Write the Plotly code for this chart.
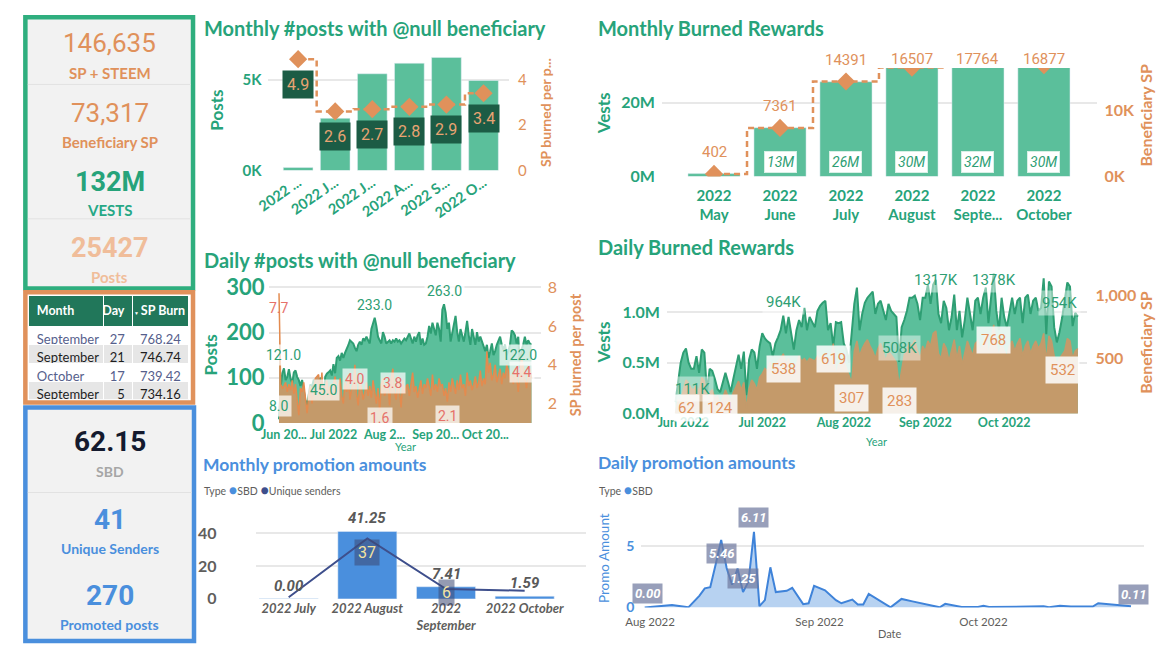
import plotly.graph_objects as go
import pandas as pd

W, H = 1160, 667
def X(px): return px / W
def Y(py): return 1 - py / H

# ---------------- DATA ----------------
kpi_sp_steem = "146,635"
kpi_benef_sp = "73,317"
kpi_vests = "132M"
kpi_posts = "25427"
kpi_sbd = "62.15"
kpi_senders = "41"
kpi_promoted = "270"

month_ticks_posts = ["2022 ...", "2022 J...", "2022 J...", "2022 A...", "2022 S...", "2022 O..."]
monthly_posts = [167, 2870, 5320, 5900, 6220, 4950]
monthly_sp_per_post = [4.9, 2.6, 2.7, 2.8, 2.9, 3.4]

month_ticks_burn = ["2022<br>May", "2022<br>June", "2022<br>July", "2022<br>August", "2022<br>Septe...", "2022<br>October"]
monthly_vests = [0.8e6, 13.2e6, 25.6e6, 29.8e6, 32.1e6, 30.3e6]
monthly_benef_sp = [402, 7361, 14391, 16507, 17764, 16877]

daily_start = "2022-05-29"
daily_posts = [8, 80, 110, 121, 95, 102, 119, 98, 88, 112,
               116, 102, 95, 82, 95, 70, 50, 38, 60, 85,
               80, 95, 88, 75, 90, 100, 95, 45, 102, 109,
               112, 116, 105, 130, 110, 144, 148, 138, 155, 144,
               155, 162, 172, 183, 179, 176, 166, 159, 173, 180,
               173, 187, 183, 191, 183, 176, 208, 222, 233, 215,
               191, 183, 176, 201, 191, 176, 180, 183, 176, 183,
               180, 187, 180, 183, 176, 183, 187, 183, 191, 198,
               187, 176, 191, 180, 194, 201, 173, 187, 173, 176,
               191, 215, 198, 222, 208, 194, 222, 208, 180, 251,
               263, 244, 208, 222, 180, 201, 215, 237, 201, 180,
               208, 194, 180, 201, 226, 194, 173, 208, 187, 173,
               201, 180, 191, 180, 166, 159, 173, 144, 159, 176,
               150, 159, 173, 183, 191, 173, 162, 173, 150, 159,
               173, 205, 201, 194, 176, 191, 122, 162, 173, 191,
               173, 183, 176, 173]
daily_sp_per_post = [7.7, 3.0, 2.8, 2.9, 3.1, 2.6, 3.0, 2.7, 3.2, 2.5,
                     3.0, 2.3, 1.4, 2.8, 2.6, 3.1, 2.2, 1.5, 2.4, 2.9,
                     2.0, 2.7, 3.3, 3.4, 3.5, 2.6, 3.6, 2.2, 2.9, 3.2,
                     2.4, 2.9, 2.2, 3.0, 3.4, 2.5, 2.9, 3.3, 2.4, 2.0,
                     3.1, 2.6, 3.5, 2.2, 2.8, 3.0, 4.0, 2.5, 1.9, 3.2,
                     2.8, 2.2, 2.6, 3.1, 2.4, 2.9, 2.3, 3.2, 2.6, 2.0,
                     2.8, 1.6, 3.0, 3.3, 2.4, 2.8, 3.1, 1.9, 3.3, 3.8,
                     2.6, 2.2, 3.4, 2.7, 1.8, 3.2, 2.5, 2.9, 3.0, 2.4,
                     3.1, 3.6, 2.6, 2.9, 2.3, 2.7, 3.2, 2.5, 3.0, 2.8,
                     3.3, 2.9, 2.4, 3.5, 2.7, 3.0, 2.6, 3.3, 2.9, 3.0,
                     2.4, 2.8, 2.1, 3.1, 2.6, 3.3, 2.9, 2.5, 3.2, 2.7,
                     3.5, 2.8, 3.0, 2.4, 3.6, 2.9, 3.2, 2.7, 3.0, 3.4,
                     2.8, 3.1, 3.7, 2.9, 3.3, 3.0, 4.7, 3.6, 4.1, 3.2,
                     3.5, 4.0, 3.1, 3.4, 3.8, 3.0, 3.6, 3.3, 4.0, 3.7,
                     3.2, 3.5, 3.0, 3.8, 3.4, 2.6, 3.6, 4.4, 3.9, 3.2,
                     2.8, 3.5, 3.8, 3.3]
daily_vests_k = [111, 300, 500, 600, 640, 500, 440, 440, 565, 400,
                 630, 600, 210, 440, 420, 340, 240, 210, 310, 400,
                 310, 210, 340, 470, 580, 440, 610, 180, 530, 630,
                 600, 440, 660, 790, 740, 710, 690, 560, 690, 750,
                 820, 964, 790, 950, 790, 630, 820, 920, 850, 1040,
                 820, 950, 900, 850, 1010, 1060, 1090, 1110, 820, 890,
                 660, 900, 890, 900, 690, 630, 500, 820, 1080, 1240,
                 820, 980, 1090, 1140, 1170, 1200, 980, 1080, 1110, 1010,
                 920, 1080, 1010, 980, 950, 508, 850, 920, 1010, 1140,
                 1140, 1160, 1080, 920, 1140, 1140, 1270, 1080, 1270, 1317,
                 980, 890, 1110, 1040, 820, 950, 1170, 820, 1010, 750,
                 920, 1140, 980, 820, 1110, 1140, 980, 1140, 1240, 890,
                 1140, 1378, 1010, 820, 1140, 950, 850, 980, 1140, 980,
                 1110, 1140, 890, 1140, 1170, 980, 1110, 1140, 1010, 1040,
                 1330, 780, 1300, 1250, 850, 700, 800, 940, 1100, 1290,
                 1250, 860, 990, 954]
daily_benef_sp = [62, 170, 170, 250, 330, 300, 260, 250, 290, 230,
                  350, 320, 150, 230, 250, 180, 200, 124, 180, 250,
                  200, 160, 230, 280, 320, 250, 310, 100, 260, 330,
                  300, 250, 350, 380, 420, 400, 470, 350, 430, 480,
                  500, 538, 460, 500, 410, 330, 450, 520, 480, 500,
                  470, 500, 490, 480, 520, 500, 520, 500, 420, 480,
                  619, 360, 450, 470, 480, 420, 360, 307, 560, 640,
                  520, 580, 620, 650, 600, 560, 500, 580, 620, 540,
                  480, 560, 530, 500, 470, 283, 420, 530, 580, 620,
                  600, 650, 560, 500, 600, 560, 640, 600, 700, 720,
                  540, 500, 620, 580, 480, 560, 650, 500, 600, 450,
                  560, 640, 580, 520, 620, 640, 560, 620, 700, 520,
                  640, 768, 600, 520, 620, 560, 520, 600, 640, 560,
                  620, 660, 520, 600, 640, 540, 600, 640, 580, 620,
                  700, 480, 680, 640, 520, 460, 500, 532, 560, 660,
                  640, 500, 560, 580]

posts_labels = [8, 121, 45, 233, 263, 122]
sp_labels = [7.7, 4.0, 3.8, 1.6, 2.1, 4.4]
vests_labels_k = [111, 964, 508, 1317, 1378, 954]
benef_labels = [62, 124, 538, 619, 307, 283, 768, 532]

table_month = ["September", "September", "October", "September"]
table_day = [27, 21, 17, 5]
table_sp_burn = [768.24, 746.74, 739.42, 734.16]

promo_months = ["2022 July", "2022 August", "2022<br>September", "2022 October"]
promo_sbd = [0.004, 41.25, 7.41, 1.59]
promo_senders = [1, 37, 6, 5]

promo_dates = ["2022-07-31", "2022-08-03", "2022-08-05", "2022-08-08", "2022-08-10", "2022-08-11",
               "2022-08-12", "2022-08-13", "2022-08-14", "2022-08-15", "2022-08-16", "2022-08-17",
               "2022-08-18", "2022-08-19", "2022-08-20", "2022-08-21", "2022-08-22", "2022-08-23",
               "2022-08-24", "2022-08-26", "2022-08-27", "2022-08-29", "2022-08-30", "2022-08-31",
               "2022-09-02", "2022-09-04", "2022-09-05", "2022-09-07", "2022-09-08", "2022-09-09",
               "2022-09-10", "2022-09-14", "2022-09-16", "2022-09-18", "2022-09-23", "2022-09-24",
               "2022-09-27", "2022-09-30", "2022-10-01", "2022-10-02", "2022-10-06", "2022-10-10",
               "2022-10-12", "2022-10-13", "2022-10-15", "2022-10-17", "2022-10-19", "2022-10-20",
               "2022-10-21", "2022-10-22", "2022-10-26", "2022-10-28"]
promo_amounts = [0.004, 0.15, 0.2, 0.02, 0.95, 1.55,
                 1.65, 3.5, 5.46, 3.2, 1.85, 3.15,
                 1.25, 2.1, 6.11, 0.12, 0.6, 3.25,
                 1.25, 1.35, 1.6, 0.28, 0.35, 1.75,
                 1.4, 0.6, 0.35, 0.65, 0.25, 0.25,
                 1.1, 0.02, 0.7, 0.5, 0.02, 0.3,
                 0.05, 0.05, 0.15, 0.05, 0.08, 0.06,
                 0.1, 0.02, 0.15, 0.08, 0.1, 0.05,
                 0.08, 0.35, 0.2, 0.11]
promo_labels = [0.004, 5.46, 1.25, 6.11, 0.11]

# ---------------- STYLE ----------------
GREEN = "#27A37A"
GREEN_BAR = "#5BBF9B"
GREEN_LINE = "#2E9E73"
GREEN_BOX = "#1C5C45"
ORANGE = "#E0915B"
ORANGE_LIGHT = "#F0BD9A"
TAN = "#C49A6A"
ORANGE_LINE = "#E38B4F"
SALMON = "#E6716A"
BLUE = "#4A8FDD"
NAVY = "#3E4F8C"
GRAY = "#605E5C"
GRID = "#E8E8E8"
TF = "Lato"
NF = "Roboto"

dates = pd.date_range(daily_start, periods=len(daily_posts))
daily_vests = [v * 1000 for v in daily_vests_k]

fig = go.Figure()

# Monthly posts
fig.add_trace(go.Bar(x=list(range(6)), y=monthly_posts, marker_color=GREEN_BAR, width=0.8,
                     xaxis="x", yaxis="y"))
fig.add_trace(go.Scatter(x=list(range(6)), y=monthly_sp_per_post, mode="lines+markers",
                         line=dict(shape="hvh", dash="6px,4px", color=ORANGE, width=2.5),
                         marker=dict(symbol="diamond", size=14, color=ORANGE),
                         xaxis="x", yaxis="y2"))
# Monthly burned
fig.add_trace(go.Bar(x=list(range(6)), y=monthly_vests, marker_color=GREEN_BAR, width=0.79,
                     xaxis="x2", yaxis="y3"))
fig.add_trace(go.Scatter(x=list(range(6)), y=monthly_benef_sp, mode="lines+markers",
                         line=dict(shape="hvh", dash="6px,4px", color=ORANGE, width=2.5),
                         marker=dict(symbol="diamond", size=14, color=ORANGE),
                         xaxis="x2", yaxis="y4"))
# Daily posts
fig.add_trace(go.Scatter(x=dates, y=daily_posts, mode="lines", fill="tozeroy",
                         fillcolor=GREEN_BAR, line=dict(color=GREEN_LINE, width=2),
                         xaxis="x3", yaxis="y5"))
fig.add_trace(go.Scatter(x=dates, y=daily_sp_per_post, mode="lines", fill="tozeroy",
                         fillcolor=TAN, line=dict(color=ORANGE_LINE, width=1.5),
                         xaxis="x3", yaxis="y6"))
# Daily burned
fig.add_trace(go.Scatter(x=dates, y=daily_vests, mode="lines", fill="tozeroy",
                         fillcolor=GREEN_BAR, line=dict(color=GREEN_LINE, width=2),
                         xaxis="x4", yaxis="y7"))
fig.add_trace(go.Scatter(x=dates, y=daily_benef_sp, mode="lines", fill="tozeroy",
                         fillcolor=TAN, line=dict(color=TAN, width=1.5),
                         xaxis="x4", yaxis="y8"))
# Monthly promo
fig.add_trace(go.Bar(x=list(range(4)), y=promo_sbd, marker_color=BLUE, width=0.75,
                     xaxis="x5", yaxis="y9"))
fig.add_trace(go.Scatter(x=list(range(4)), y=promo_senders, mode="lines",
                         line=dict(color=NAVY, width=2), xaxis="x5", yaxis="y9"))
# Daily promo
fig.add_trace(go.Scatter(x=pd.to_datetime(promo_dates), y=promo_amounts, mode="lines", fill="tozeroy",
                         fillcolor="rgba(74,143,221,0.40)", line=dict(color="#3F83D9", width=2),
                         xaxis="x6", yaxis="y10"))
# Table
row_fill = ["#FFFFFF", "#E6E6E6", "#FFFFFF", "#E6E6E6"]
row_font = ["#56608C", "#1E1E1E", "#56608C", "#1E1E1E"]
fig.add_trace(go.Table(
    domain=dict(x=[X(13), X(176)], y=[Y(404), Y(296)]),
    columnwidth=[76, 30, 57],
    header=dict(values=["<b>Month</b>", "<b>Day</b>", "<b>SP\u00a0Burn</b>"],
                fill_color="#21775A", line_color="white", line_width=1,
                font=dict(color="white", size=12.5, family="Lato"),
                align=["left", "right", "left"], height=21),
    cells=dict(values=[table_month, table_day, [f"{v:.2f}" for v in table_sp_burn]],
               fill_color=[row_fill] * 3, line_color="white", line_width=1,
               font=dict(color=[row_font] * 3, size=13, family="Lato"),
               align=["left", "right", "right"], height=18.5)))

ax = dict(showgrid=False, zeroline=False, showline=False, ticks="", fixedrange=True)
ay = dict(zeroline=False, showline=False, ticks="", gridcolor=GRID, gridwidth=1.5, fixedrange=True)

def tf(size, color, bold=True, italic=False, family=TF):
    d = dict(size=size, color=color, family=family)
    if bold:
        d["weight"] = "bold"
    if italic:
        d["style"] = "italic"
    return d

fig.update_layout(
    width=W, height=H, margin=dict(l=0, r=0, t=0, b=0),
    paper_bgcolor="white", plot_bgcolor="rgba(0,0,0,0)", showlegend=False,
    hovermode=False, font=dict(family=TF),
    # monthly posts
    xaxis=dict(ax, domain=[X(256), X(500)], anchor="y", range=[-0.8, 5.69],
               tickvals=list(range(6)), ticktext=month_ticks_posts, tickangle=-35,
               tickfont=tf(14.5, GREEN)),
    yaxis=dict(ay, domain=[Y(167), Y(42)], anchor="x", range=[0, 6649],
               tickvals=[0, 5000], ticktext=["0K", "5K"], tickfont=tf(15, GREEN), ticklabelstandoff=6),
    yaxis2=dict(ay, overlaying="y", side="right", anchor="x", range=[0, 5.32], showgrid=False,
                tickvals=[0, 2, 4], tickfont=tf(15, ORANGE, bold=False), ticklabelstandoff=8),
    # monthly burned
    xaxis2=dict(ax, domain=[X(655), X(1096.5)], anchor="y3", range=[-0.789, 5.81],
                tickvals=list(range(6)), ticktext=month_ticks_burn, tickfont=tf(15, GREEN),
                ticklabelstandoff=8),
    yaxis3=dict(ay, domain=[Y(173.3), Y(61)], anchor="x2", range=[0, 29.32e6],
                tickvals=[0, 20e6], ticktext=["0M", "20M"], tickfont=tf(16, GREEN), ticklabelstandoff=6),
    yaxis4=dict(ay, overlaying="y3", side="right", anchor="x2", range=[0, 16440], showgrid=False,
                tickvals=[0, 10000], ticktext=["0K", "10K"], tickfont=tf(16, ORANGE), ticklabelstandoff=6),
    # daily posts
    xaxis3=dict(ax, domain=[X(257), X(532)], anchor="y5", type="date",
                range=["2022-05-23 05:00", "2022-11-03 14:00"],
                tickvals=["2022-06-01", "2022-07-01", "2022-08-01", "2022-09-01", "2022-10-01"],
                ticktext=["Jun 20...", "Jul 2022", "Aug 2...", "Sep 20...", "Oct 20..."],
                tickfont=tf(12.5, GREEN), ticklabelstandoff=3),
    yaxis5=dict(ay, domain=[Y(428), Y(283)], anchor="x3", range=[0, 310.7],
                tickvals=[0, 100, 200, 300], tickfont=tf(22, GREEN), ticklabelstandoff=4),
    yaxis6=dict(ay, overlaying="y5", side="right", anchor="x3", range=[1, 8.25], showgrid=False,
                tickvals=[2, 4, 6, 8], tickfont=tf(16, ORANGE, bold=False), ticklabelstandoff=6),
    # daily burned
    xaxis4=dict(ax, domain=[X(660), X(1085.5)], anchor="y7", type="date",
                range=["2022-05-25 18:00", "2022-11-01 07:00"],
                tickvals=["2022-06-01", "2022-07-01", "2022-08-01", "2022-09-01", "2022-10-01"],
                ticktext=["Jun 2022", "Jul 2022", "Aug 2022", "Sep 2022", "Oct 2022"],
                tickfont=tf(12.5, GREEN)),
    yaxis7=dict(ay, domain=[Y(418.3), Y(268)], anchor="x4", range=[0, 1.431e6],
                tickvals=[0, 0.5e6, 1e6], ticktext=["0.0M", "0.5M", "1.0M"], tickfont=tf(16, GREEN),
                ticklabelstandoff=6),
    yaxis8=dict(ay, overlaying="y7", side="right", anchor="x4", range=[62, 1220], showgrid=False,
                tickvals=[500, 1000], ticktext=["500", "1,000"], tickfont=tf(16, ORANGE), ticklabelstandoff=8),
    # monthly promo
    xaxis5=dict(ax, domain=[X(243), X(578)], anchor="y9", range=[-0.42, 3.78],
                tickvals=list(range(4)), ticktext=promo_months, tickfont=tf(13, GRAY, italic=True)),
    yaxis9=dict(ay, domain=[Y(610), Y(515)], anchor="x5", range=[0, 56.2],
                tickvals=[0, 20, 40], tickfont=tf(16, GRAY), ticklabelstandoff=38),
    # daily promo
    xaxis6=dict(ax, domain=[X(634), X(1144)], anchor="y10", type="date",
                range=["2022-07-30 09:00", "2022-10-30 10:00"],
                tickvals=["2022-08-01", "2022-09-01", "2022-10-01"],
                ticktext=["Aug 2022", "Sep 2022", "Oct 2022"], tickfont=tf(11.5, GRAY, bold=False),
                ticklabelstandoff=6),
    yaxis10=dict(ay, domain=[Y(619), Y(520)], anchor="x6", range=[0, 7.73],
                 tickvals=[0, 5], tickfont=tf(14, BLUE), ticklabelstandoff=6),
)

shapes = [
    dict(type="rect", xref="paper", yref="paper", x0=X(9.5), x1=X(179.5), y0=Y(289), y1=Y(8.5),
         line=dict(color="#2FAE7E", width=4.5), fillcolor="#F2F2F2", layer="below"),
    dict(type="line", xref="paper", yref="paper", x0=X(12), x1=X(177), y0=Y(78), y1=Y(78),
         line=dict(color="#E2E2E2", width=1), layer="below"),
    dict(type="line", xref="paper", yref="paper", x0=X(12), x1=X(177), y0=Y(217), y1=Y(217),
         line=dict(color="#E2E2E2", width=1), layer="below"),
    dict(type="rect", xref="paper", yref="paper", x0=X(9.5), x1=X(179.5), y0=Y(407), y1=Y(293),
         line=dict(color=ORANGE, width=4.5), fillcolor="white", layer="below"),
    dict(type="rect", xref="paper", yref="paper", x0=X(9.5), x1=X(180.5), y0=Y(653.5), y1=Y(412),
         line=dict(color=BLUE, width=4.5), fillcolor="#F2F2F2", layer="below"),
    dict(type="line", xref="paper", yref="paper", x0=X(12), x1=X(178), y0=Y(500), y1=Y(500),
         line=dict(color="#E2E2E2", width=1), layer="below"),
]
fig.update_layout(shapes=shapes)

anns = []
def A(text, xp, yp, size, color, family=TF, xanchor="center", angle=0, **kw):
    anns.append(dict(text=text, x=X(xp), y=Y(yp), xref="paper", yref="paper", showarrow=False,
                     xanchor=xanchor, yanchor="middle", textangle=angle,
                     font=dict(size=size, color=color, family=family), **kw))

# KPI panels
A(kpi_sp_steem, 95, 35, 26, ORANGE, family=NF)
A("<b>SP + STEEM</b>", 95, 66, 15, ORANGE)
A(kpi_benef_sp, 95, 108, 26, ORANGE, family=NF)
A("<b>Beneficiary SP</b>", 95, 138, 15, ORANGE)
A(f"<b>{kpi_vests}</b>", 95, 179, 27, "#26A37A", family=NF)
A("<b>VESTS</b>", 95, 208, 15, "#26A886")
A(f"<b>{kpi_posts}</b>", 95, 247, 27, ORANGE_LIGHT, family=NF)
A("<b>Posts</b>", 95, 277, 15, ORANGE_LIGHT)
A(f"<b>{kpi_sbd}</b>", 95, 447, 28, "#141A2E", family=NF)
A("<b>SBD</b>", 95, 478, 14, "#A6A6A6")
A(f"<b>{kpi_senders}</b>", 95, 528, 28, BLUE, family=NF)
A("<b>Unique Senders</b>", 95, 558, 14, BLUE)
A(f"<b>{kpi_promoted}</b>", 95, 606, 28, BLUE, family=NF)
A("<b>Promoted posts</b>", 95, 636, 14, BLUE)
A("▼", 122.5, 314, 5, "white")

# Titles
A("<b>Monthly #posts with @null beneficiary</b>", 189, 20, 20, GREEN, xanchor="left")
A("<b>Monthly Burned Rewards</b>", 588, 20, 20, GREEN, xanchor="left")
A("<b>Daily #posts with @null beneficiary</b>", 189, 260, 20, GREEN, xanchor="left")
A("<b>Daily Burned Rewards</b>", 588, 246, 20, GREEN, xanchor="left")
A("<b>Monthly promotion amounts</b>", 188, 471, 17.5, BLUE, xanchor="left")
A("<b>Daily promotion amounts</b>", 588, 469, 17.5, BLUE, xanchor="left")

# Axis titles
A("<b>Posts</b>", 203, 105, 17, GREEN, angle=-90)
A("<b>SP burned per p...</b>", 537, 107, 14, ORANGE, angle=-90)
A("<b>Vests</b>", 596, 108, 17, GREEN, angle=-90)
A("<b>Beneficiary SP</b>", 1145, 110, 16, ORANGE, angle=-90)
A("<b>Posts</b>", 197, 358, 17, GREEN, angle=-90)
A("<b>SP burned per post</b>", 567, 358, 14.5, ORANGE, angle=-90)
A("Year", 395, 452, 11, GREEN)
A("<b>Vests</b>", 596, 345, 17, GREEN, angle=-90)
A("<b>Beneficiary SP</b>", 1145, 345, 16, ORANGE, angle=-90)
A("Year", 873, 447, 11, GREEN)
A("Promo Amount", 596, 568, 13.5, BLUE, angle=-90)
A("Date", 886, 646, 11, GRAY)

legend1 = ('Type <span style="color:#4A8FDD;font-size:14px">●</span>SBD '
           '<span style="color:#3E4F8C;font-size:14px">●</span>Unique senders')
A(legend1, 189, 497, 10.5, GRAY, xanchor="left")
A('Type <span style="color:#4A8FDD;font-size:14px">●</span>SBD', 589, 497, 10.5, GRAY, xanchor="left")

# Monthly posts labels (dark boxes)
for i, v in enumerate(monthly_sp_per_post):
    anns.append(dict(text=f"{v:.1f}", x=i, y=v, xref="x", yref="y2", showarrow=False, yshift=-25,
                     bgcolor=GREEN_BOX, borderpad=4, font=dict(size=16, color="#E9A473", family=NF)))

# Monthly burned labels
for i, v in enumerate(monthly_benef_sp):
    top = 16440
    anns.append(dict(text=f"{v}", x=i, y=min(v, top), xref="x2", yref="y4", showarrow=False,
                     yshift=22 if v <= top else 9, font=dict(size=15, color=ORANGE, family=NF)))
for i, v in enumerate(monthly_vests):
    if v >= 1e6:
        anns.append(dict(text=f"<i>{round(v / 1e6)}M</i>", x=i, y=0, xref="x2", yref="y3",
                         showarrow=False, yanchor="bottom", yshift=4, bgcolor="white",
                         bordercolor="#D8F0E6", borderwidth=1, borderpad=2,
                         font=dict(size=14, color=GREEN_LINE, family=NF)))

# Daily posts labels
for lv in posts_labels:
    i = daily_posts.index(lv)
    anns.append(dict(text=f"{lv:.1f}", x=dates[i], y=lv, xref="x3", yref="y5", showarrow=False,
                     yshift=13, bgcolor="rgba(255,255,255,0.72)", borderpad=2,
                     font=dict(size=14, color=GREEN_LINE, family=NF)))
for lv in sp_labels:
    i = daily_sp_per_post.index(lv)
    anns.append(dict(text=f"{lv:.1f}", x=dates[i], y=max(lv - 0.75, 1.25), xref="x3", yref="y6",
                     showarrow=False, bgcolor="rgba(255,255,255,0.72)" if i > 0 else None, borderpad=2,
                     font=dict(size=14, color=SALMON, family=NF)))

# Daily burned labels
n = len(daily_vests_k)
for lv in vests_labels_k:
    i = daily_vests_k.index(lv)
    yc = min(lv * 1000 + 133300, 1316700)
    xa = "left" if i == 0 else ("right" if i == n - 1 else "center")
    anns.append(dict(text=f"{lv}K", x=dates[i], y=yc, xref="x4", yref="y7", showarrow=False,
                     xanchor=xa, xshift=-4 if i == 0 else (3 if i == n - 1 else 0),
                     bgcolor="rgba(255,255,255,0.45)", borderpad=3,
                     font=dict(size=15, color=GREEN_LINE, family=NF)))
for lv in benef_labels:
    i = daily_benef_sp.index(lv)
    yc = max(lv - 123.3, 102.8)
    xa = "left" if i == 0 else "center"
    anns.append(dict(text=f"{lv}", x=dates[i], y=yc, xref="x4", yref="y8", showarrow=False,
                     xanchor=xa, xshift=-2 if i == 0 else 0,
                     bgcolor="rgba(255,255,255,0.85)", borderpad=4,
                     font=dict(size=15, color=ORANGE, family=NF)))

# Monthly promo labels
for i, v in enumerate(promo_sbd):
    anns.append(dict(text=f"<b><i>{v:.2f}</i></b>", x=i, y=v, xref="x5", yref="y9", showarrow=False,
                     yshift=13, font=dict(size=15, color="#595959", family=NF)))
for i, v in enumerate(promo_senders):
    if v >= 6:
        anns.append(dict(text=f"{v}", x=i, y=max(v - 8.9, 4.2), xref="x5", yref="y9", showarrow=False,
                         bgcolor="rgba(60,72,115,0.55)", borderpad=3,
                         font=dict(size=16, color="#F4E3A0", family=NF)))

# Daily promo labels
np_ = len(promo_amounts)
for lv in promo_labels:
    i = promo_amounts.index(lv)
    v = promo_amounts[i]
    if i == 0:
        xa, xs, ys = "left", -13, 14
    elif i == np_ - 1:
        xa, xs, ys = "right", 18, 12
    else:
        xa, xs, ys = "center", 0, (-14 if v == 5.46 else 14)
    anns.append(dict(text=f"<b><i>{v:.2f}</i></b>", x=pd.Timestamp(promo_dates[i]), y=v, xref="x6", yref="y10",
                     showarrow=False, xanchor=xa, xshift=xs, yshift=ys,
                     bgcolor="rgba(112,122,160,0.72)", borderpad=2,
                     font=dict(size=13, color="white", family=NF)))

fig.update_layout(annotations=anns)
fig.write_html("out.html", config={"displayModeBar": False},
               post_script="document.body.style.margin='0';document.body.style.overflow='hidden';")
